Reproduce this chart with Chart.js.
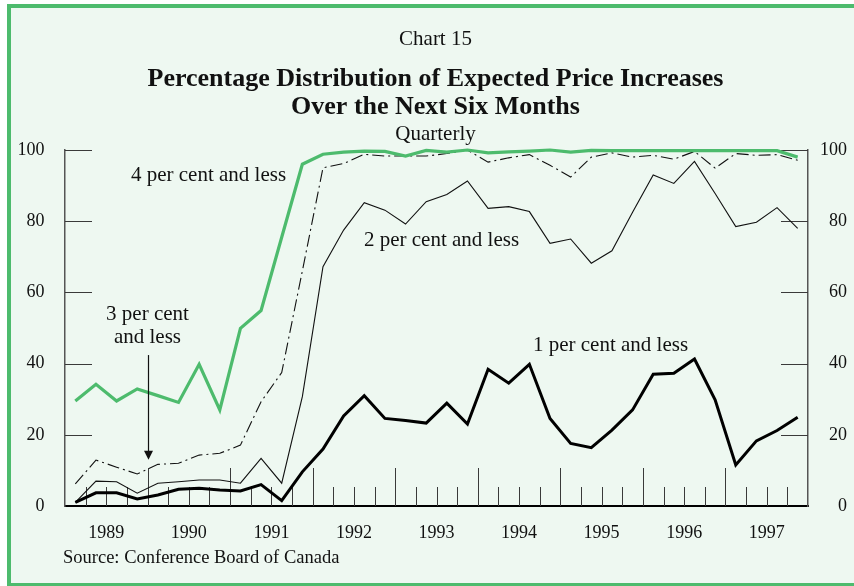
<!DOCTYPE html>
<html>
<head>
<meta charset="utf-8">
<script src="https://cdn.jsdelivr.net/npm/chart.js@4/dist/chart.umd.min.js"></script>
<style>
    html, body { margin: 0; padding: 0; background: #ffffff; overflow: hidden; }
    #frame {
        position: absolute; left: 7px; top: 4px; width: 900px; height: 583px;
        box-sizing: border-box; border: 4px solid #4dbb6d; background: #eef8f1;
    }
    #wrap { position: absolute; left: 0; top: 0; width: 854px; height: 586px; }
</style>
</head>
<body>
<div id="frame"></div>
<div id="wrap"><canvas id="chart" width="854" height="586"></canvas></div>
<script>
// Quarterly data, 1989Q1 .. 1997Q4 (per cent of firms)
const years = ['1989', '1990', '1991', '1992', '1993', '1994', '1995', '1996', '1997'];
const quarters = years.flatMap(y => ['Q1', 'Q2', 'Q3', 'Q4'].map(q => y + q));

const onePct = [1.0, 3.7, 3.7, 2.0, 3.1, 4.7, 5.0, 4.5, 4.2, 6.0, 1.5, 9.6,
    16.0, 25.3, 31.0, 24.6, 24.0, 23.3, 28.9, 23.0, 38.4, 34.5, 39.8, 24.6,
    17.6, 16.4, 21.3, 27.0, 37.0, 37.3, 41.3, 29.8, 11.5, 18.3, 21.2, 24.9];
const twoPct = [1.0, 7.0, 6.8, 3.6, 6.4, 6.8, 7.3, 7.3, 6.4, 13.4, 6.4, 30.7,
    67.2, 77.5, 85.2, 83.1, 79.2, 85.5, 87.5, 91.3, 83.6, 84.1, 82.7, 73.8,
    75.0, 68.2, 71.7, 82.5, 93.0, 90.6, 96.8, 87.8, 78.5, 79.7, 83.8, 78.0];
const threePct = [6.2, 12.9, 10.9, 9.0, 11.7, 12.0, 14.3, 14.8, 17.1, 29.3, 37.5, 66.0,
    95.0, 96.2, 98.8, 98.3, 98.3, 98.3, 99.0, 100, 96.6, 97.8, 98.7, 95.7,
    92.4, 98.0, 99.2, 98.0, 98.5, 97.4, 99.6, 94.9, 99.0, 98.5, 98.7, 97.1];
const fourPct = [29.5, 34.2, 29.5, 32.9, 31.0, 29.1, 39.8, 27.0, 49.9, 54.9, 75.5, 96.0,
    98.8, 99.4, 99.7, 99.6, 98.3, 99.9, 99.4, 100, 99.2, 99.5, 99.7, 100,
    99.4, 99.9, 99.8, 99.8, 99.8, 99.8, 99.8, 99.8, 99.8, 99.8, 99.8, 98.0];

const yTicks = [0, 20, 40, 60, 80, 100];

const serif = "'Liberation Serif', 'Times New Roman', serif";
const green = '#4dbb6d';

// point i sits in the middle of its quarter band
const toPoints = arr => arr.map((v, i) => ({ x: i + 0.5, y: v }));

// quarter tick marks (inside the plot) and inward value ticks
const tickMarks = {
    id: 'tickMarks',
    beforeDatasetsDraw(chart) {
        const { ctx, chartArea: a, scales: { x, y } } = chart;
        ctx.save();
        ctx.strokeStyle = '#3a3a3a';
        ctx.lineWidth = 1;
        ctx.beginPath();
        for (let q = 1; q < quarters.length; q++) {
            const px = Math.round(x.getPixelForValue(q)) + 0.5;
            const len = q % 4 === 0 ? 38 : 19;
            ctx.moveTo(px, a.bottom);
            ctx.lineTo(px, a.bottom - len);
        }
        yTicks.filter(v => v > 0).forEach(v => {
            const py = Math.round(y.getPixelForValue(v)) + 0.5;
            ctx.moveTo(a.left, py);
            ctx.lineTo(a.left + 27, py);
            ctx.moveTo(a.right - 27, py);
            ctx.lineTo(a.right, py);
        });
        ctx.stroke();
        ctx.restore();
    }
};

// titles, series labels, arrow, source
const annotations = {
    id: 'annotations',
    afterDraw(chart) {
        const { ctx, scales: { x, y } } = chart;
        const cx = 435.5;
        ctx.save();
        ctx.fillStyle = '#111';
        ctx.textAlign = 'center';
        ctx.textBaseline = 'alphabetic';

        ctx.font = '21px ' + serif;
        ctx.fillText('Chart 15', cx, 45);
        ctx.font = 'bold 26px ' + serif;
        ctx.fillText('Percentage Distribution of Expected Price Increases', cx, 86);
        ctx.fillText('Over the Next Six Months', cx, 114);
        ctx.font = '21px ' + serif;
        ctx.fillText('Quarterly', cx, 140);

        ctx.fillText('4 per cent and less', 208.5, 181);
        ctx.fillText('2 per cent and less', 441.5, 246);
        ctx.fillText('1 per cent and less', 610.5, 351);
        ctx.fillText('3 per cent', 147.5, 320);
        ctx.fillText('and less', 147.5, 343);

        // arrow pointing at the 3 per cent series
        const ax = Math.round(x.getPixelForValue(4)) + 0.5;
        const ay0 = y.getPixelForValue(42.4);
        const ay1 = y.getPixelForValue(13.0);
        ctx.strokeStyle = '#111';
        ctx.lineWidth = 1.2;
        ctx.beginPath();
        ctx.moveTo(ax, ay0);
        ctx.lineTo(ax, ay1 - 6);
        ctx.stroke();
        ctx.beginPath();
        ctx.moveTo(ax - 4.5, ay1 - 9);
        ctx.lineTo(ax + 4.5, ay1 - 9);
        ctx.lineTo(ax, ay1);
        ctx.closePath();
        ctx.fill();

        ctx.textAlign = 'left';
        ctx.font = '18.5px ' + serif;
        ctx.fillText('Source: Conference Board of Canada', 63, 563);
        ctx.restore();
    }
};

new Chart(document.getElementById('chart'), {
    type: 'line',
    data: {
        datasets: [
            {
                label: '1 per cent and less',
                data: toPoints(onePct),
                borderColor: '#000',
                borderWidth: 3,
                pointRadius: 0,
                clip: 6
            },
            {
                label: '4 per cent and less',
                data: toPoints(fourPct),
                borderColor: green,
                borderWidth: 3.2,
                pointRadius: 0,
                clip: 6
            },
            {
                label: '2 per cent and less',
                data: toPoints(twoPct),
                borderColor: '#111',
                borderWidth: 1.1,
                pointRadius: 0,
                clip: 6
            },
            {
                label: '3 per cent and less',
                data: toPoints(threePct),
                borderColor: '#111',
                borderWidth: 1.1,
                borderDash: [12, 4, 2, 4],
                pointRadius: 0,
                clip: 6
            }
        ]
    },
    options: {
        responsive: false,
        animation: false,
        events: [],
        layout: { padding: { left: 0, right: 7, top: 150, bottom: 0 } },
        plugins: {
            legend: { display: false },
            title: { display: false },
            tooltip: { enabled: false }
        },
        scales: {
            x: {
                type: 'linear',
                min: 0,
                max: quarters.length,
                grid: { display: false },
                border: { display: true, color: '#000', width: 2 },
                afterBuildTicks: scale => {
                    scale.ticks = years.map((yr, k) => ({ value: 4 * k + 2 }));
                },
                afterFit: scale => { scale.height = 80; },
                ticks: {
                    autoSkip: false,
                    maxRotation: 0,
                    padding: 8,
                    color: '#111',
                    font: { family: serif, size: 18 },
                    callback: v => years[(v - 2) / 4]
                }
            },
            y: {
                position: 'left',
                min: 0,
                max: 100,
                grid: { display: false },
                border: { display: true, color: '#555', width: 1.5 },
                afterBuildTicks: scale => { scale.ticks = yTicks.map(v => ({ value: v })); },
                afterFit: scale => { scale.width = 65; },
                ticks: {
                    padding: 12.5,
                    color: '#111',
                    font: { family: serif, size: 18 }
                }
            },
            y2: {
                position: 'right',
                min: 0,
                max: 100,
                grid: { display: false },
                border: { display: true, color: '#555', width: 1.5 },
                afterBuildTicks: scale => { scale.ticks = yTicks.map(v => ({ value: v })); },
                afterFit: scale => { scale.width = 39; },
                ticks: {
                    crossAlign: 'far',
                    color: '#111',
                    font: { family: serif, size: 18 }
                }
            }
        }
    },
    plugins: [tickMarks, annotations]
});
</script>
</body>
</html>
